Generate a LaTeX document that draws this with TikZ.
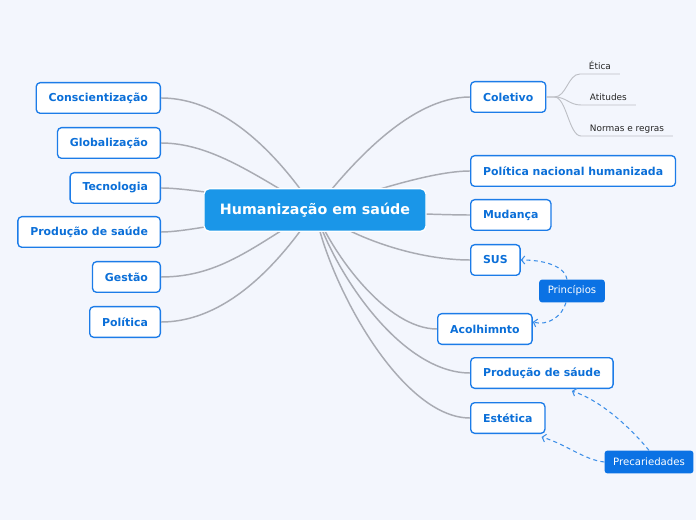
\documentclass[tikz,border=0pt]{standalone}
\usepackage{fontspec}
\setmainfont{DejaVu Sans}
\usetikzlibrary{arrows.meta,calc,backgrounds}
\definecolor{pagebg}{HTML}{F3F6FD}
\definecolor{hubblue}{HTML}{1A96E8}
\definecolor{topicblue}{HTML}{0B6FD8}
\definecolor{topicedge}{HTML}{1C7CE8}
\definecolor{calloutblue}{HTML}{0B72E4}
\definecolor{linkgray}{HTML}{A9ABB3}
\definecolor{dashblue}{HTML}{3D8FE8}
\tikzset{
  hubbox/.style={rectangle, rounded corners=4pt, draw=white, line width=1pt,
    fill=hubblue, text=white, minimum height=32pt, inner xsep=12pt,
    font=\fontsize{10.7}{12}\selectfont\bfseries},
  topicbox/.style={rectangle, rounded corners=3pt, draw=topicedge, line width=1pt,
    fill=white, text=topicblue, minimum height=23pt, inner xsep=9.3pt,
    font=\fontsize{8.2}{10}\selectfont\bfseries},
  calloutbox/.style={rectangle, rounded corners=2pt, fill=calloutblue, text=white,
    minimum height=17pt, inner xsep=6.4pt, font=\fontsize{7.6}{9}\selectfont},
  leaf/.style={anchor=south west, inner xsep=6.5pt, inner ysep=2pt, text depth=1.4pt,
    text=black!85, font=\fontsize{6.7}{8}\selectfont},
  branch/.style={draw=linkgray, line width=1.1pt},
  twig/.style={draw=linkgray!75, line width=0.7pt},
  hint/.style={draw=dashblue, line width=0.8pt, dash pattern=on 3pt off 2.5pt,
    -{Straight Barb[length=2.5pt,width=6pt]}}
}

\begin{document}
\begin{tikzpicture}[x=0.75pt, y=-0.75pt]

  \useasboundingbox (0,0) rectangle (696,520);

  % --- central topic ---
  \node[hubbox] (hub) at (315,210) {Humanização em saúde};

  % --- left branches ---
  \node[topicbox, anchor=east] (consc) at (161,98)  {Conscientização};
  \node[topicbox, anchor=east] (glob)  at (161,143) {Globalização};
  \node[topicbox, anchor=east] (tecno) at (161,188) {Tecnologia};
  \node[topicbox, anchor=east] (prodl) at (161,232) {Produção de saúde};
  \node[topicbox, anchor=east] (gest)  at (161,277) {Gestão};
  \node[topicbox, anchor=east] (polit) at (161,322) {Política};

  % --- right branches ---
  \node[topicbox, anchor=west] (colet) at (470,97)  {Coletivo};
  \node[topicbox, anchor=west] (polnac) at (470,171) {Política nacional humanizada};
  \node[topicbox, anchor=west] (mudan) at (470,215) {Mudança};
  \node[topicbox, anchor=west] (sus)   at (470,260) {SUS};
  \node[topicbox, anchor=west] (acolh) at (437,329) {Acolhimnto};
  \node[topicbox, anchor=west] (prodr) at (470,373) {Produção de sáude};
  \node[topicbox, anchor=west] (estet) at (470,418) {Estética};

  % --- subtopics of Coletivo ---
  \node[leaf] (etica) at (580,74)  {Ética};
  \node[leaf] (atit)  at (581,105) {Atitudes};
  \node[leaf] (normas) at (581,136) {Normas e regras};

  % --- callouts ---
  \node[calloutbox] (princ) at (572,291) {Princípios};
  \node[calloutbox] (precar) at (649,462) {Precariedades};

  % ---------------- branches ----------------
  \begin{scope}[on background layer]
    \fill[pagebg] (0,0) rectangle (696,520);
    \draw[branch] (consc.east) .. controls ($(consc.east)+(69,0)$) and ($(hub.center)+(-30,-45)$) .. (hub.center);
    \draw[branch] (glob.east) .. controls ($(glob.east)+(50,0)$) and ($(hub.center)+(-60,-35)$) .. (hub.center);
    \draw[branch] (tecno.east) .. controls ($(tecno.east)+(30,0)$) and ($(hub.center)+(-60,-10)$) .. (hub.center);
    \draw[branch] (prodl.east) .. controls ($(prodl.east)+(30,0)$) and ($(hub.center)+(-60,6)$) .. (hub.center);
    \draw[branch] (gest.east) .. controls ($(gest.east)+(60,0)$) and ($(hub.center)+(-60,35)$) .. (hub.center);
    \draw[branch] (polit.east) .. controls ($(polit.east)+(70,0)$) and ($(hub.center)+(-30,45)$) .. (hub.center);

    \draw[branch] (colet.west) .. controls ($(colet.west)+(-60,0)$) and ($(hub.center)+(35,-45)$) .. (hub.center);
    \draw[branch] (polnac.west) .. controls ($(polnac.west)+(-40,0)$) and ($(hub.center)+(45,-15)$) .. (hub.center);
    \draw[branch] (mudan.west) .. controls ($(mudan.west)+(-30,0)$) and ($(hub.center)+(60,2)$) .. (hub.center);
    \draw[branch] (sus.west) .. controls ($(sus.west)+(-50,0)$) and ($(hub.center)+(40,30)$) .. (hub.center);
    \draw[branch] (acolh.west) .. controls ($(acolh.west)+(-50,0)$) and ($(hub.center)+(18,45)$) .. (hub.center);
    \draw[branch] (prodr.west) .. controls ($(prodr.west)+(-70,0)$) and ($(hub.center)+(18,60)$) .. (hub.center);
    \draw[branch] (estet.west) .. controls ($(estet.west)+(-70,0)$) and ($(hub.center)+(12,70)$) .. (hub.center);
  \end{scope}

  % --- Coletivo twigs ---
  \draw[twig] (colet.east) -- ++(8,0) .. controls +(12,0) and ($(etica.south west)+(-12,0)$) .. (etica.south west) -- (etica.south east);
  \draw[twig] (colet.east) -- ++(8,0) .. controls +(12,0) and ($(atit.south west)+(-12,0)$) .. (atit.south west) -- (atit.south east);
  \draw[twig] (colet.east) -- ++(8,0) .. controls +(12,0) and ($(normas.south west)+(-12,0)$) .. (normas.south west) -- (normas.south east);

  % --- callout links ---
  \draw[hint] ($(princ.north)+(-5,0)$) .. controls ($(princ.north)+(-8,-15)$) and ($(sus.east)+(20,0)$) .. (sus.east);
  \draw[hint] ($(princ.south)+(-6,0)$) .. controls ($(princ.south)+(-10,14)$) and ($(acolh.east)+(15,-3)$) .. ($(acolh.east)+(0,-7)$);
  \draw[hint] (precar.north) .. controls ($(precar.north)+(-18,-22)$) and ($(prodr.south)+(60,12)$) .. ($(prodr.south)+(30,2)$);
  \draw[hint] (precar.west) .. controls ($(precar.west)+(-20,-2)$) and ($(estet.south east)+(20,10)$) .. ($(estet.south east)+(-4,3)$);

\end{tikzpicture}
\end{document}
